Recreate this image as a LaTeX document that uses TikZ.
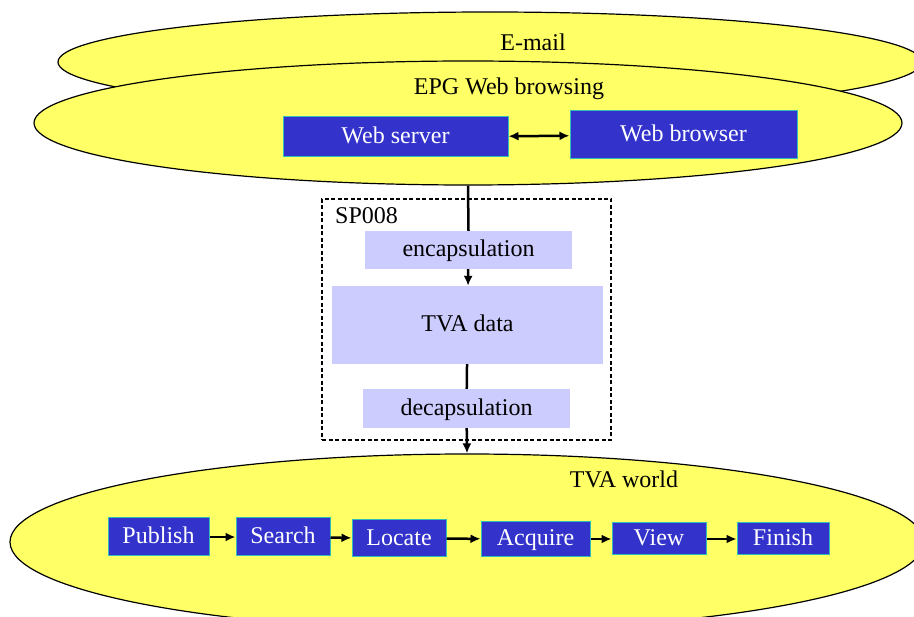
\documentclass[tikz,border=0pt]{standalone}
\usepackage{fontspec}
\setmainfont{Liberation Serif}
\newfontfamily\timesfont{Liberation Serif}
\usetikzlibrary{shapes.geometric,positioning,arrows.meta}
\definecolor{cloud}{HTML}{FFFF66}
\definecolor{boxblue}{HTML}{3333CC}
\definecolor{boxedge}{HTML}{33BBBB}
\definecolor{lavender}{HTML}{CCCCFF}

\begin{document}
\begin{tikzpicture}[x=1pt, y=-1pt]
	\tikzstyle{world}=[ellipse, draw=black, fill=cloud, line width=1.2pt, inner sep=0pt];
	\tikzstyle{tag}=[font=\timesfont\fontsize{24}{28}\selectfont];
	\tikzstyle{bluebox}=[tag, draw=boxedge, fill=boxblue, text=white, line width=1pt, inner sep=0pt, text height=17pt, text depth=3pt];
	\tikzstyle{layer}=[tag, fill=lavender, inner sep=0pt, text height=17pt, text depth=3pt];
	\tikzstyle{link}=[line width=2.5pt];
	\tikzstyle{tip}=[-{Latex[length=10pt, width=9pt]}];

	\useasboundingbox (0,0) rectangle (914,617);

	% the three worlds
	\node[world, minimum width=864pt, minimum height=100pt] (mail) at (490, 62) {};
	\node[tag] (maillbl) at (533, 42) {E-mail};
	\node[world, minimum width=868pt, minimum height=124pt] (epg) at (468, 123) {};
	\node[tag] (epglbl) at (509, 89) {EPG Web browsing};
	\node[world, minimum width=914pt, minimum height=176pt] (tva) at (467, 542) {};
	\node[tag] (tvalbl) at (624, 479) {TVA world};

	\node[bluebox, minimum width=225pt, minimum height=40pt] (server) at (395.5, 137) {Web server};
	\node[bluebox, minimum width=227pt, minimum height=48pt] (browser) at (683.5, 135) {Web browser};

	% SP008
	\node[draw=black, dash pattern=on 4pt off 2.5pt, line width=1.5pt, minimum width=289pt, minimum height=241pt, inner sep=0pt] (sp) at (466.5, 319.5) {};
	\node[tag, anchor=west, inner sep=0pt] (splbl) at (335, 216) {SP008};
	\node[layer, minimum width=207pt, minimum height=38pt] (encap) at (468.5, 250) {encapsulation};
	\node[layer, minimum width=271pt, minimum height=78pt] (data) at (467.5, 325) {TVA data};
	\node[layer, minimum width=207pt, minimum height=39pt] (decap) at (466.5, 408.5) {decapsulation};

	\node[bluebox, minimum width=101pt, minimum height=38pt] (publish) at (158.5, 537) {Publish};
	\node[bluebox, minimum width=94pt, minimum height=38pt] (search) at (283, 537) {Search};
	\node[bluebox, minimum width=94pt, minimum height=37pt] (locate) at (399, 538.5) {Locate};
	\node[bluebox, minimum width=109pt, minimum height=35pt] (acquire) at (535.5, 539) {Acquire};
	\node[bluebox, minimum width=94pt, minimum height=32pt] (view) at (659, 539) {View};
	\node[bluebox, minimum width=92pt, minimum height=32pt] (finish) at (783, 539) {Finish};

	\draw (server) edge[link, {Latex[length=10pt, width=9pt]}-{Latex[length=10pt, width=9pt]}] (browser);
	\draw (epg.south) edge[link] (encap.north);
	\draw (encap) edge[link, tip] (data);
	\draw (data) edge[link] (decap);
	\draw (decap) edge[link, tip] (tva.north);
	\foreach \a/\b in {publish/search, search/locate, locate/acquire, acquire/view, view/finish}
		\draw (\a) edge[link, tip] (\b);
\end{tikzpicture}
\end{document}
